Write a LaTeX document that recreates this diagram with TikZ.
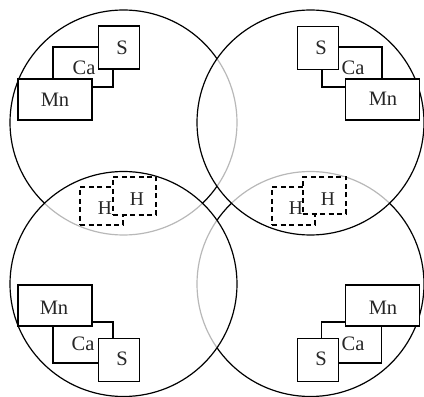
\documentclass[tikz,border=0pt]{standalone}
\usepackage{fontspec}
\setmainfont{Liberation Serif}
\begin{document}
\begin{tikzpicture}[x=1pt,y=1pt,
  ring/.style={line width=1.2pt, draw=black},
  faint/.style={line width=1.2pt, draw=black!28},
  box/.style={draw=black, line width=1.9pt, fill=white, inner sep=0pt, rectangle},
  hbox/.style={draw=black, line width=1.8pt, fill=white, inner sep=0pt, rectangle, dash pattern=on 5pt off 3.5pt},
  lbl/.style={font=\fontsize{20.5}{22}\selectfont, inner sep=0pt, text=black!85},
  hlbl/.style={font=\fontsize{19.5}{21}\selectfont, inner sep=0pt, text=black!85}]
\useasboundingbox (0,0) rectangle (424,397);
\def\rx{113.5}\def\ry{112.5}
\coordinate (cTL) at (123.5,274.5);
\coordinate (cTR) at (310.5,274.5);
\coordinate (cBL) at (123.5,113);
\coordinate (cBR) at (310.5,113);
% faint parts of TL and BR circles (inside other circles)
\begin{scope}\clip (cTR) ellipse [x radius=\rx, y radius=\ry];
  \draw[faint] (cTL) ellipse [x radius=\rx, y radius=\ry];
  \draw[faint] (cBR) ellipse [x radius=\rx, y radius=\ry];\end{scope}
\begin{scope}\clip (cBL) ellipse [x radius=\rx, y radius=\ry];
  \draw[faint] (cTL) ellipse [x radius=\rx, y radius=\ry];
  \draw[faint] (cBR) ellipse [x radius=\rx, y radius=\ry];\end{scope}
% black parts of TL and BR circles (outside other circles)
\begin{scope}
  \clip (-20,-20) -- (-20,420) -- (450,420) -- (450,-20) -- cycle (cTR) ellipse [x radius=\rx, y radius=\ry];
  \clip (-20,-20) -- (-20,420) -- (450,420) -- (450,-20) -- cycle (cBL) ellipse [x radius=\rx, y radius=\ry];
  \draw[ring] (cTL) ellipse [x radius=\rx, y radius=\ry];
  \draw[ring] (cBR) ellipse [x radius=\rx, y radius=\ry];
\end{scope}
% full black circles TR and BL
\draw[ring] (cTR) ellipse [x radius=\rx, y radius=\ry];
\draw[ring] (cBL) ellipse [x radius=\rx, y radius=\ry];
% top-left group
\node[box, minimum width=60pt, minimum height=40pt] (caTL) at (83,330) {};
\node[box, minimum width=41pt, minimum height=43pt] (sTL) at (119,349.5) {};
\node[box, minimum width=74pt, minimum height=41pt] (mnTL) at (55,297.5) {};
% top-right group
\node[box, minimum width=60pt, minimum height=40pt] (caTR) at (352,330) {};
\node[box, minimum width=41pt, minimum height=43pt] (sTR) at (318,349) {};
\node[box, minimum width=74pt, minimum height=41pt] (mnTR) at (382.5,297.5) {};
% bottom-left group
\node[box, minimum width=60pt, minimum height=41pt] (caBL) at (83,54.5) {};
\node[box, minimum width=41pt, minimum height=43pt] (sBL) at (119,37) {};
\node[box, minimum width=74pt, minimum height=41pt] (mnBL) at (55,91.5) {};
% bottom-right group
\node[box, minimum width=60pt, minimum height=41pt] (caBR) at (351.5,54.5) {};
\node[box, minimum width=41pt, minimum height=43pt] (sBR) at (318,37) {};
\node[box, minimum width=74pt, minimum height=41pt] (mnBR) at (382.5,91.5) {};
% H boxes
\node[hbox, minimum width=43pt, minimum height=38pt] (hL1) at (101.5,191) {};
\node[hbox, minimum width=43pt, minimum height=38pt] (hL2) at (134.5,201) {};
\node[hbox, minimum width=43pt, minimum height=38pt] (hR1) at (293.5,191) {};
\node[hbox, minimum width=43pt, minimum height=37pt] (hR2) at (324.5,201.5) {};
% labels
\node[lbl] (tSTL) at (122,349) {S};
\node[lbl] (tCaTL) at (84,329) {Ca};
\node[lbl] (tMnTL) at (55,297) {Mn};
\node[lbl] (tSTR) at (321,349) {S};
\node[lbl] (tCaTR) at (353,329) {Ca};
\node[lbl] (tMnTR) at (383,298) {Mn};
\node[lbl] (tSBL) at (122,38) {S};
\node[lbl] (tCaBL) at (83,53) {Ca};
\node[lbl] (tMnBL) at (54,89) {Mn};
\node[lbl] (tSBR) at (321,38) {S};
\node[lbl] (tCaBR) at (353,53) {Ca};
\node[lbl] (tMnBR) at (383,89) {Mn};
\node[hlbl] (tHL1) at (105,189) {H};
\node[hlbl] (tHL2) at (137,198) {H};
\node[hlbl] (tHR1) at (296,189) {H};
\node[hlbl] (tHR2) at (328,198) {H};
\end{tikzpicture}
\end{document}
